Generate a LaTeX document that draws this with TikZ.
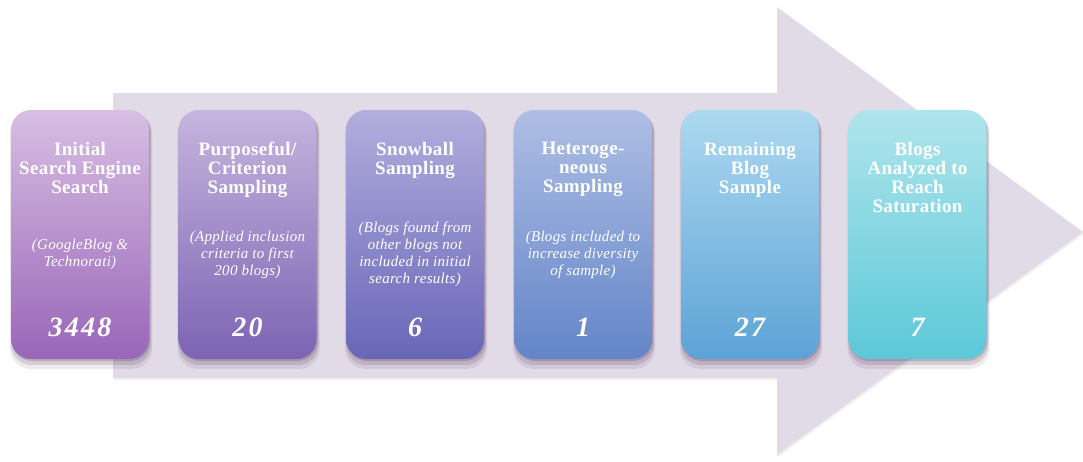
\documentclass[tikz,border=0pt]{standalone}
\usepackage{fontspec}
\setmainfont{Liberation Serif}
\usetikzlibrary{positioning,shadows}

\definecolor{arrowfill}{HTML}{E1DBE8}
\definecolor{topA}{HTML}{D8BEE3}\definecolor{botA}{HTML}{9966B8}
\definecolor{topB}{HTML}{C5B5DE}\definecolor{botB}{HTML}{7D63B3}
\definecolor{topC}{HTML}{B2AEDD}\definecolor{botC}{HTML}{6966B8}
\definecolor{topD}{HTML}{AFBEE5}\definecolor{botD}{HTML}{6385C8}
\definecolor{topE}{HTML}{ADD9F1}\definecolor{botE}{HTML}{5CA3D6}
\definecolor{topF}{HTML}{AFE5EC}\definecolor{botF}{HTML}{5CC8D8}

\begin{document}
\begin{tikzpicture}[x=1pt, y=-1pt,
    stp/.style={rectangle, rounded corners=20pt, minimum width=138pt,
                minimum height=249pt, inner sep=0pt,
                drop shadow={shadow xshift=1pt, shadow yshift=-6pt, shadow scale=1.03,
                             opacity=0.08, fill=black!70!violet},
                drop shadow={shadow xshift=1pt, shadow yshift=-4pt, shadow scale=1.015,
                             opacity=0.12, fill=black!70!violet},
                drop shadow={shadow xshift=1pt, shadow yshift=-2pt,
                             opacity=0.15, fill=black!70!violet}},
    ttl/.style={font=\fontsize{19}{19}\selectfont\bfseries
                \addfontfeature{LetterSpace=2}, text=white,
                align=center, inner sep=0pt},
    sub/.style={font=\fontsize{15}{17}\selectfont\itshape
                \addfontfeature{LetterSpace=2}, text=white,
                align=center, inner sep=0pt},
    num/.style={font=\fontsize{28}{30}\selectfont\bfseries\itshape
                \addfontfeature{LetterSpace=8}, text=white, inner sep=0pt},
  ]
  \useasboundingbox (0,0) rectangle (1083,461);
  % big arrow behind the steps
  \fill[arrowfill, drop shadow={shadow xshift=1pt, shadow yshift=-2pt, opacity=0.12}]
    (113,93) -- (777,93) -- (777,7) -- (1083,232) -- (777,455)
    -- (777,378) -- (113,378) -- cycle;

  \node[stp, top color=topA, bottom color=botA] (s1) at (80,234.5) {};
  \node[stp, top color=topB, bottom color=botB] (s2) at (247.5,234.5) {};
  \node[stp, top color=topC, bottom color=botC] (s3) at (415,234.5) {};
  \node[stp, top color=topD, bottom color=botD] (s4) at (583,234.5) {};
  \node[stp, top color=topE, bottom color=botE] (s5) at (750,234.5) {};
  \node[stp, top color=topF, bottom color=botF] (s6) at (917.5,234.5) {};

  \node[ttl, below=32pt of s1.north] (t1) {Initial\\Search Engine\\Search};
  \node[ttl, below=32pt of s2.north] (t2) {Purposeful/\\Criterion\\Sampling};
  \node[ttl, below=32pt of s3.north] (t3) {Snowball\\Sampling};
  \node[ttl, below=32pt of s4.north] (t4) {Heteroge-\\neous\\Sampling};
  \node[ttl, below=32pt of s5.north] (t5) {Remaining\\Blog\\Sample};
  \node[ttl, below=32pt of s6.north] (t6) {Blogs\\Analyzed to\\Reach\\Saturation};

  \node[sub] (d1) at ([yshift=-20pt]s1.center) {(GoogleBlog \&\\Technorati)};
  \node[sub] (d2) at ([yshift=-20pt]s2.center) {(Applied inclusion\\criteria to first\\200 blogs)};
  \node[sub] (d3) at ([yshift=-20pt]s3.center) {(Blogs found from\\other blogs not\\included in initial\\search results)};
  \node[sub] (d4) at ([yshift=-20pt]s4.center) {(Blogs included to\\increase diversity\\of sample)};

  \node[num, anchor=base] (c1) at ([yshift=23pt]s1.south) {3448};
  \node[num, anchor=base] (c2) at ([yshift=23pt]s2.south) {20};
  \node[num, anchor=base] (c3) at ([yshift=23pt]s3.south) {6};
  \node[num, anchor=base] (c4) at ([yshift=23pt]s4.south) {1};
  \node[num, anchor=base] (c5) at ([yshift=23pt]s5.south) {27};
  \node[num, anchor=base] (c6) at ([yshift=23pt]s6.south) {7};
\end{tikzpicture}
\end{document}
